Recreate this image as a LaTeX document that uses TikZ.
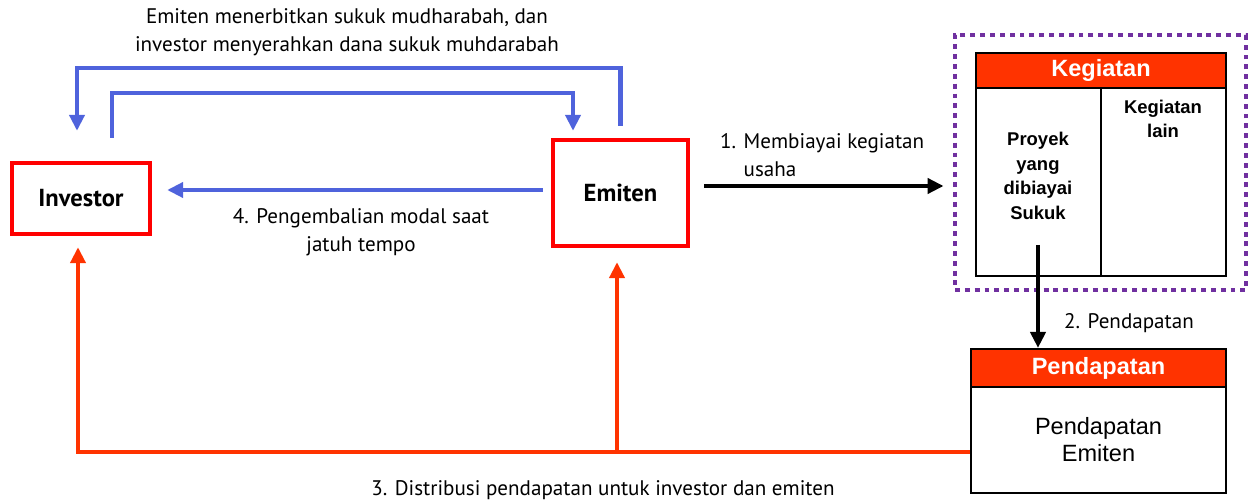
\documentclass[tikz,border=0pt]{standalone}
\usepackage{fontspec}
\setmainfont{PT Sans}
\newfontfamily\arialfont{Liberation Sans}
\usetikzlibrary{arrows.meta}
\definecolor{flowblue}{HTML}{4F63DC}
\definecolor{flowred}{HTML}{FF3300}
\definecolor{boxred}{HTML}{FF0000}
\definecolor{dotpurple}{HTML}{7030A0}

\begin{document}
\begin{tikzpicture}[x=0.02cm,y=-0.02cm,
  party/.style={draw=boxred,line width=2.5pt,font=\bfseries\fontsize{14}{16}\selectfont,inner sep=0pt},
  head/.style={draw=black,line width=1.2pt,fill=flowred,text=white,font=\arialfont\bfseries\fontsize{13.4}{16}\selectfont,inner sep=0pt},
  cell/.style={draw=black,line width=1.2pt,minimum width=2.5cm,minimum height=3.76cm,inner sep=0pt},
  celltext/.style={font=\arialfont\bfseries\fontsize{10.5}{14}\selectfont,align=center},
  lbl/.style={font=\fontsize{12}{16}\selectfont,align=center},
  blueflow/.style={draw=flowblue,line width=2.8pt,-{Triangle[length=3.2mm,width=3mm]}},
  redflow/.style={draw=flowred,line width=2.8pt,-{Triangle[length=3.2mm,width=3mm]}},
  blackflow/.style={draw=black,line width=2.3pt,-{Triangle[length=3.2mm,width=3mm]}}]
\useasboundingbox (0,0) rectangle (1248,503);
\node[party,minimum width=2.76cm,minimum height=1.42cm] (inv) at (81,198.5) {Investor};
\node[party,minimum width=2.7cm,minimum height=2.12cm] (emi) at (620.5,193) {Emiten};
\node[draw=dotpurple,line width=2.8pt,dash pattern=on 2.8pt off 2.8pt,minimum width=5.82cm,minimum height=5.1cm] (kegout) at (1100.5,162.5) {};
\node[head,minimum width=5cm,minimum height=0.7cm] (khead) at (1101,70.5) {Kegiatan};
\node[cell] (cellL) at (1038.5,182) {};
\node[cell] (cellR) at (1163.5,182) {};
\node[celltext] (proyek) at (1038,176) {Proyek\\yang\\dibiayai\\Sukuk};
\node[celltext] (lain) at (1163,119) {Kegiatan\\lain};
\node[head,minimum width=5.1cm,minimum height=0.76cm] (phead) at (1098.5,368) {Pendapatan};
\node[draw=black,line width=1.2pt,minimum width=5.1cm,minimum height=2.12cm,align=center,font=\arialfont\fontsize{13.4}{15.3}\selectfont] (pbody) at (1098.5,440) {Pendapatan\\Emiten};
\node[lbl] (ltop) at (347,32) {Emiten menerbitkan sukuk mudharabah, dan\\investor menyerahkan dana sukuk muhdarabah};
\node[lbl] (lback) at (361,232) {4. Pengembalian modal saat\\jatuh tempo};
\node[lbl,align=left,anchor=west] (lfund) at (714,155) {1. Membiayai kegiatan\\\phantom{1. }usaha};
\node[lbl,anchor=west] (lincome) at (1058,323) {2. Pendapatan};
\node[lbl] (ldist) at (603,490) {3. Distribusi pendapatan untuk investor dan emiten};
\coordinate (topA) at (0,68);
\coordinate (topB) at (0,93);
\coordinate (src2) at (1038,245);
\coordinate (bus) at ([yshift=-0.24cm]pbody.west);
\coordinate (emiB) at ([xshift=-0.07cm]emi.south);
\coordinate (invT) at ([xshift=-0.08cm]inv.north);
\coordinate (invU) at ([xshift=0.62cm]inv.north);
\coordinate (emiT) at ([xshift=-0.95cm]emi.north);
\coordinate (invB) at ([xshift=-0.06cm]inv.south);
\draw[blueflow,shorten <=0.24cm,shorten >=0.6cm] (emi.north) -- (emi.north |- topA) -| (invT);
\draw[blueflow,shorten <=0.46cm,shorten >=0.14cm] (invU) -- (invU |- topB) -| (emiT);
\draw[blueflow,shorten <=0.16cm,shorten >=0.3cm] ([yshift=0.06cm]emi.west) -- ([yshift=0.06cm]inv.east |- emi.west);
\draw[blackflow,shorten <=0.28cm,shorten >=0.18cm] ([yshift=0.14cm]emi.east) -- ([yshift=0.14cm]emi.east -| kegout.west);
\draw[blackflow] (src2) -- (src2 |- phead.north);
\draw[redflow,shorten >=0.22cm] (bus) -| (invB);
\draw[redflow,shorten >=0.28cm] (emiB |- bus) -- (emiB);
\end{tikzpicture}
\end{document}
